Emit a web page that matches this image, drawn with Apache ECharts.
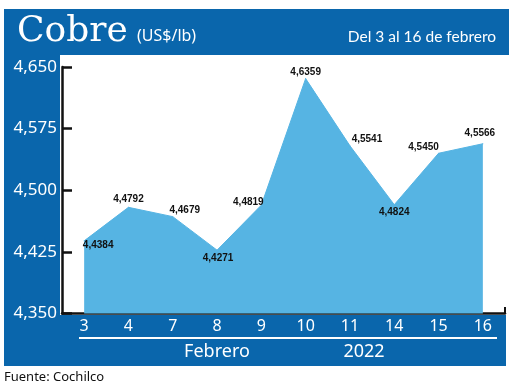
<!DOCTYPE html>
<html>
<head>
<meta charset="utf-8">
<script src="https://cdn.jsdelivr.net/npm/echarts@6/dist/echarts.min.js"></script>
<style>html,body{margin:0;padding:0;background:#fff;}#c{width:520px;height:387px;}</style>
</head>
<body>
<div id="c"></div>
<script>
// ---- data ----
const dates = ['3', '4', '7', '8', '9', '10', '11', '14', '15', '16'];
const copper = [4.4384, 4.4792, 4.4679, 4.4271, 4.4819, 4.6359, 4.5541, 4.4824, 4.5450, 4.5566];
const yMin = 4.35;
const yMax = 4.65;
const yStep = 0.075;
const titleText = 'Cobre';
const unitText = '(US$/lb)';
const periodText = 'Del 3 al 16 de febrero';
const monthText = 'Febrero';
const yearText = '2022';
const sourceText = 'Fuente: Cochilco';

// ---- styling ----
const BLUE = '#0a66ac';
const FILL = '#56b4e3';
const labelOffsets = [[14, 4], [0, -8], [12, -6], [1, 8], [-13, -3], [0, -6], [17, -7], [0, 8], [-15, -6], [-3, -10]];
const labelFont = '"Liberation Sans Narrow","Liberation Sans",sans-serif';
const sans = '"Noto Sans","Open Sans",sans-serif';

const chart = echarts.init(document.getElementById('c'), null, {renderer: 'canvas'});
const fmt = (v, d) => v.toFixed(d).replace('.', ',');

chart.setOption({
  animation: false,
  backgroundColor: '#ffffff',
  grid: {left: 62, right: 15, top: 67, bottom: 73.5, containLabel: false},
  xAxis: {
    type: 'category',
    data: dates,
    boundaryGap: true,
    axisLine: {show: true, lineStyle: {color: '#111', width: 2.5}},
    axisTick: {show: false},
    axisLabel: {color: '#fff', fontSize: 16, fontFamily: sans, margin: 5}
  },
  yAxis: {
    type: 'value',
    min: yMin, max: yMax, interval: yStep,
    axisLine: {show: true, lineStyle: {color: '#111', width: 2.5}},
    axisTick: {show: true, inside: true, length: 10, lineStyle: {color: '#111', width: 2.5}},
    splitLine: {show: false},
    axisLabel: {color: '#fff', fontSize: 17, fontFamily: sans, margin: 5, formatter: v => fmt(v, 3)}
  },
  series: [{
    type: 'line',
    data: copper.map((v, i) => ({
      value: v,
      label: {offset: labelOffsets[i]}
    })),
    symbol: 'circle',
    symbolSize: 1,
    itemStyle: {color: FILL},
    lineStyle: {color: FILL, width: 1},
    areaStyle: {color: FILL, opacity: 1, origin: 'start'},
    z: 3,
    label: {
      show: true,
      position: 'inside',
      color: '#111',
      fontSize: 10,
      fontWeight: 'bold',
      fontFamily: labelFont,
      formatter: p => fmt(p.value, 4)
    }
  }],
  graphic: [
    {type: 'rect', z: -10, shape: {x: 4, y: 9, width: 505, height: 46}, style: {fill: BLUE}},
    {type: 'rect', z: -10, shape: {x: 4, y: 55, width: 56, height: 260}, style: {fill: BLUE}},
    {type: 'rect', z: -10, shape: {x: 4, y: 315, width: 502, height: 51}, style: {fill: BLUE}},
    {type: 'text', z: 10, style: {x: 17, y: 32, text: titleText, fill: '#fff',
      font: 'normal 36px "DejaVu Serif",serif', textVerticalAlign: 'middle'}},
    {type: 'text', z: 10, style: {x: 137, y: 36, text: unitText, fill: '#fff',
      font: 'normal 16px ' + sans, textVerticalAlign: 'middle'}},
    {type: 'text', z: 10, style: {x: 496, y: 37, text: periodText, fill: '#fff',
      font: 'normal 15.5px Lato,sans-serif', textAlign: 'right', textVerticalAlign: 'middle'}},
    {type: 'line', z: 10, shape: {x1: 79, y1: 338, x2: 497, y2: 338}, style: {stroke: '#fff', lineWidth: 2}},
    {type: 'text', z: 10, style: {x: 217, y: 352, text: monthText, fill: '#fff',
      font: 'normal 18px ' + sans, textAlign: 'center', textVerticalAlign: 'middle'}},
    {type: 'text', z: 10, style: {x: 364, y: 352, text: yearText, fill: '#fff',
      font: 'normal 18px ' + sans, textAlign: 'center', textVerticalAlign: 'middle'}},
    {type: 'line', z: 10, shape: {x1: 505, y1: 313.5, x2: 505, y2: 307}, style: {stroke: '#111', lineWidth: 2}},
    {type: 'text', z: 10, style: {x: 4, y: 377, text: sourceText, fill: '#111',
      font: 'normal 13px ' + sans, textVerticalAlign: 'middle'}}
  ]
});
</script>
</body>
</html>
